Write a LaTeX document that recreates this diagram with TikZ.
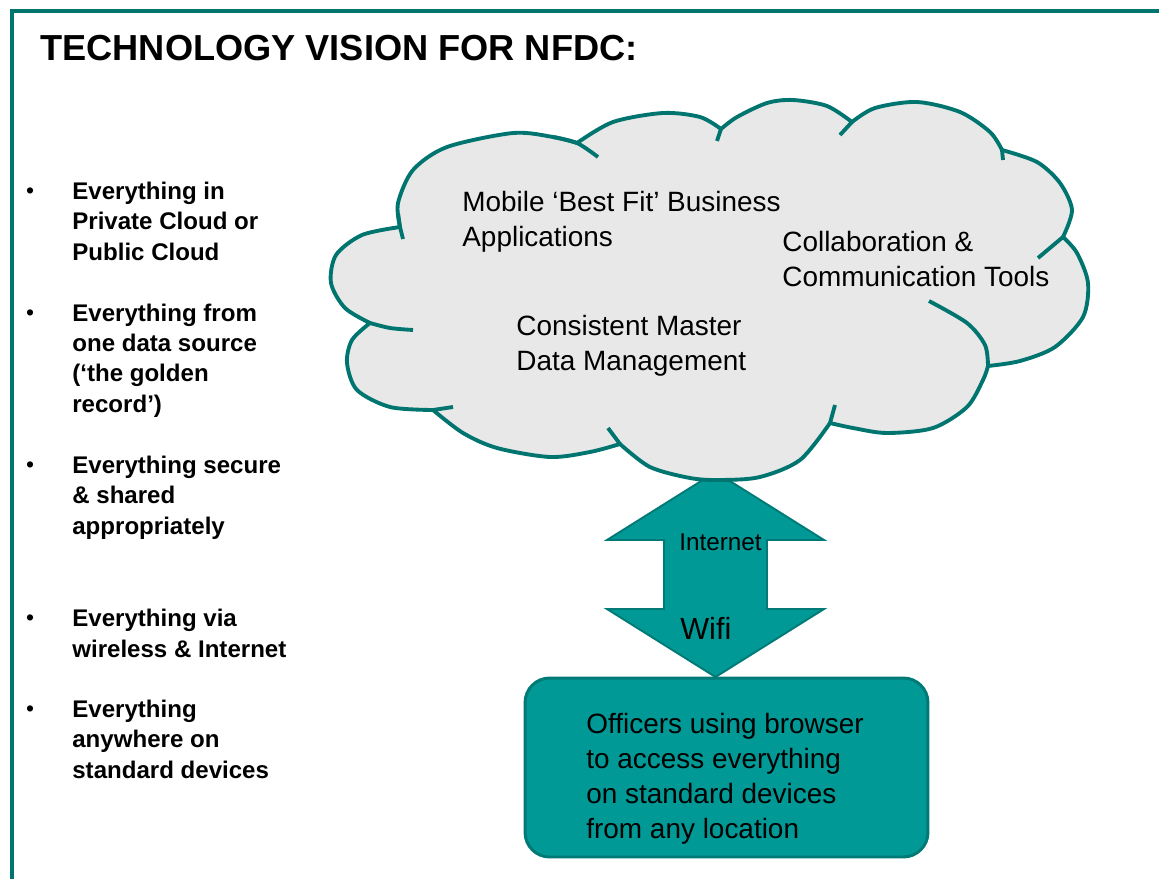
\documentclass[tikz,border=0pt]{standalone}
\usepackage{fontspec}
\setmainfont{Liberation Sans}
\usetikzlibrary{positioning}
\definecolor{tealline}{RGB}{0,117,112}
\definecolor{tealfill}{RGB}{0,153,150}
\definecolor{tealedge}{RGB}{0,122,118}
\definecolor{cloudgray}{RGB}{232,232,232}
\tikzset{
    heading/.style={font=\fontsize{20.6}{24}\selectfont\bfseries,anchor=base west,inner sep=0pt},
    point/.style={font=\fontsize{13.7}{17.1}\selectfont\bfseries,align=left,anchor=base west,inner sep=0pt},
    dot/.style={font=\fontsize{13}{15}\selectfont,anchor=base,inner sep=0pt},
    cloudtext/.style={font=\fontsize{15.9}{19.9}\selectfont,align=left,anchor=base west,inner sep=0pt},
    frame/.style={draw=tealline,line width=2.3pt},
    cloudline/.style={draw=tealline,line width=2.2pt,line join=round,line cap=butt},
    netarrow/.style={draw=tealedge,fill=tealfill,line width=1.1pt},
    officebox/.style={draw=tealedge,fill=tealfill,line width=1.7pt,rounded corners=14pt,
        minimum width=8.06cm,minimum height=3.58cm,inner sep=0pt}
}

\begin{document}
\begin{tikzpicture}[x=0.02cm,y=-0.02cm]
    \useasboundingbox (0,0) rectangle (1159,879);
    \draw[frame] (12,879) -- (12,11) -- (1159,11);

    \node[heading] (title) at (40,60) {TECHNOLOGY VISION FOR NFDC:};

    \node[point] (p1) at (72,260) {Everything in\\Private Cloud or\\Public Cloud};
    \node[point] (p2) at (72,412) {Everything from\\one data source\\(‘the golden\\record’)};
    \node[point] (p3) at (72,534) {Everything secure\\\& shared\\appropriately};
    \node[point] (p4) at (72,657) {Everything via\\wireless \& Internet};
    \node[point] (p5) at (72,778) {Everything\\anywhere on\\standard devices};
    \foreach \i in {1,...,5}
        \node[dot] (d\i) at ([xshift=-0.84cm,yshift=-0.32cm]p\i.north west) {•};

    \coordinate (up) at (715.5,472);
    \coordinate (down) at (715.5,677);
    \draw[netarrow] (up) -- (824,540) -- (767,540) -- (767,609) -- (824,609) -- (down)
        -- (607,609) -- (664,609) -- (664,540) -- (607,540) -- cycle;

    \path[cloudline,fill=cloudgray]
        plot[smooth] coordinates {(400,227) (398,203) (413,170) (447,147) (513,133) (553,137) (577,143)}
        -- plot[smooth] coordinates {(577,143) (613,122) (663,113) (700,117) (721,129)}
        -- plot[smooth] coordinates {(721,129) (737,117) (767,103) (793,100) (827,106) (852,122)}
        -- plot[smooth] coordinates {(852,122) (875,108) (917,102) (960,112) (990,132) (1002,150)}
        -- plot[smooth] coordinates {(1002,150) (1037,162) (1060,183) (1072,210) (1063,237)}
        -- plot[smooth] coordinates {(1063,237) (1077,253) (1088,283) (1083,317) (1055,347) (1020,361) (988,366)}
        -- plot[smooth] coordinates {(988,366) (983,380) (967,407) (933,428) (887,433) (853,428) (830,423)}
        -- plot[smooth] coordinates {(830,423) (800,460) (760,477) (720,480) (690,478) (650,467) (620,444)}
        -- plot[smooth] coordinates {(620,444) (590,452) (550,457) (497,448) (463,433) (433,410)}
        -- plot[smooth] coordinates {(433,410) (390,407) (357,390) (347,363) (352,340) (370,323)}
        -- plot[smooth] coordinates {(370,323) (345,308) (331,283) (336,255) (362,235) (400,227)}
        -- cycle;
    \draw[cloudline] (398,213) -- (400,227) -- (403,239);
    \draw[cloudline] plot[smooth] coordinates {(553,137) (577,143) (598,157)};
    \draw[cloudline] (721,129) -- (717,141);
    \draw[cloudline] (852,122) -- (840,135);
    \draw[cloudline] (1002,150) -- (1003,160);
    \draw[cloudline] (1063,237) -- (1038,258);
    \draw[cloudline] plot[smooth] coordinates {(988,366) (985,345) (967,323) (929,301)};
    \draw[cloudline] (830,423) -- (835,405);
    \draw[cloudline] (620,444) -- (608,428);
    \draw[cloudline] (433,410) -- (453,407);
    \draw[cloudline] plot[smooth] coordinates {(370,323) (390,328) (413,330)};

    \node[cloudtext] (apps) at (462,246.7) {Mobile ‘Best Fit’ Business\\Applications};
    \node[cloudtext] (tools) at (782,286.7) {Collaboration \&\\Communication Tools};
    \node[cloudtext] (mdm) at (516,370) {Consistent Master\\Data Management};

    \node[font=\fontsize{13.8}{16}\selectfont,anchor=base west,inner sep=0pt] (internet) at (679,550.7) {Internet};
    \node[font=\fontsize{17.4}{20}\selectfont,anchor=base west,inner sep=0pt] (wifi) at (680,639.3) {Wifi};

    \node[officebox] (box) at (726.5,767.5) {};
    \node[cloudtext] (officers) at (586,838.3) {Officers using browser\\to access everything\\on standard devices\\from any location};
\end{tikzpicture}
\end{document}
